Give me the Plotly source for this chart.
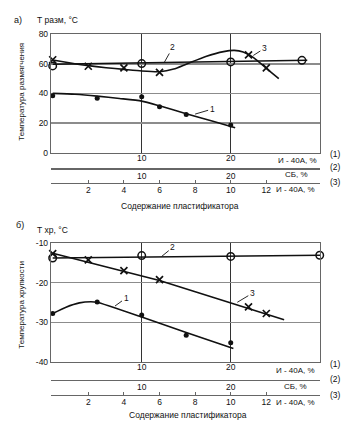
import plotly.graph_objects as go

# ---------------- data: panel a) softening temperature ----------------
a_c1_x = [0, 5, 10, 12, 15, 20]
a_c1_y = [38.5, 36.8, 37.7, 30.9, 25.8, 18.7]
a_c1_fit_x = [0, 2.5, 5, 7.5, 10, 12, 15, 18, 20.5]
a_c1_fit_y = [40.0, 39.4, 38.2, 36.6, 34.8, 31.6, 26.3, 21.2, 16.7]

a_c2_x = [0, 10, 20, 28]
a_c2_y = [58.6, 60.2, 61.3, 62.4]
a_c2_fit_x = [0, 28.6]
a_c2_fit_y = [59.7, 62.4]

a_c3_x = [0, 2, 4, 6, 11, 12]
a_c3_y = [62.8, 58.4, 57.3, 54.2, 66.1, 57.3]
a_c3_fit_x = [0, 1, 2, 3, 4, 5, 6, 6.8, 7.5, 8.6, 9.6, 10.2, 10.7, 11.3, 12, 12.7]
a_c3_fit_y = [62.6, 60.6, 58.8, 57.4, 56.3, 55.2, 54.7, 56.5, 59.8, 65.0, 68.3, 69.1, 68.0, 64.1, 57.0, 50.0]

# ---------------- data: panel b) brittleness temperature ----------------
b_c1_x = [0, 5, 10, 15, 20]
b_c1_y = [-27.8, -24.9, -28.2, -33.3, -35.2]
b_c1_fit_x = [0, 1.5, 3, 4.3, 5, 10, 15, 20.3]
b_c1_fit_y = [-27.8, -26.2, -25.1, -24.8, -24.95, -28.7, -32.6, -36.7]

b_c2_x = [0, 10, 20, 30]
b_c2_y = [-13.7, -13.1, -13.3, -13.0]
b_c2_fit_x = [0, 30.8]
b_c2_fit_y = [-13.7, -13.0]

b_c3_x = [0, 2, 4, 6, 11, 12]
b_c3_y = [-12.6, -14.2, -16.9, -19.2, -26.1, -27.8]
b_c3_fit_x = [0, 6, 13]
b_c3_fit_y = [-12.5, -19.4, -29.4]

# ---------------- ticks ----------------
a_y_ticks = [0, 20, 40, 60, 80]
a_y_ticktext = ["0", "20", "40", "60", "80"]
b_y_ticks = [-40, -30, -20, -10]
b_y_ticktext = ["-40", "-30", "-20", "-10"]
scale1_ticks = [10, 20]
scale2_ticks = [10, 20]
scale3_ticks = [2, 4, 6, 8, 10, 12]

# ---------------- geometry helpers ----------------
W, H = 357, 434
L, R = 51, 37
PW = W - L - R


def xp(px):
    return (px - L) / PW


def yp(py):
    return 1 - py / H


FONT = "Liberation Sans, Arial, sans-serif"
BLACK = "#111"
GRID_H = "#8c8c8c"
GRID_V = "#333"
BORDER = "#666"

X1_RANGE = [-0.19, 30.03]
X3_RANGE = [X1_RANGE[0] / 2, X1_RANGE[1] / 2]

fig = go.Figure()


def line(x, y, xa, ya, shape="linear", smoothing=0):
    fig.add_trace(go.Scatter(x=x, y=y, xaxis=xa, yaxis=ya, mode="lines",
                             line=dict(color=BLACK, width=1.6, shape=shape,
                                       smoothing=smoothing if shape == "spline" else None),
                             hoverinfo="skip", showlegend=False))


def marks(x, y, xa, ya, kind):
    if kind == "dot":
        m = dict(symbol="circle", size=5, color=BLACK)
    elif kind == "circle":
        m = dict(symbol="circle-open", size=7.5, color=BLACK, line=dict(width=1.5, color=BLACK))
    else:
        m = dict(symbol="x-thin-open", size=7, color=BLACK, line=dict(width=1.7, color=BLACK))
    fig.add_trace(go.Scatter(x=x, y=y, xaxis=xa, yaxis=ya, mode="markers",
                             marker=m, cliponaxis=False, hoverinfo="skip",
                             showlegend=False))


# panel a
line(a_c1_fit_x, a_c1_fit_y, "x", "y", "spline", 0.6)
marks(a_c1_x, a_c1_y, "x", "y", "dot")
line(a_c2_fit_x, a_c2_fit_y, "x2", "y")
marks(a_c2_x, a_c2_y, "x2", "y", "circle")
line(a_c3_fit_x, a_c3_fit_y, "x3", "y", "spline", 0.6)
marks(a_c3_x, a_c3_y, "x3", "y", "x")

# panel b
line(b_c1_fit_x, b_c1_fit_y, "x4", "y2", "spline", 0.5)
marks(b_c1_x, b_c1_y, "x4", "y2", "dot")
line(b_c2_fit_x, b_c2_fit_y, "x5", "y2")
marks(b_c2_x, b_c2_y, "x5", "y2", "circle")
line(b_c3_fit_x, b_c3_fit_y, "x6", "y2")
marks(b_c3_x, b_c3_y, "x6", "y2", "x")

tickfont = dict(family=FONT, size=8.5, color=BLACK)

main_x = dict(range=X1_RANGE, tickmode="array", tickvals=scale1_ticks,
              ticktext=[str(v) for v in scale1_ticks], showgrid=True,
              gridcolor=GRID_V, gridwidth=1, showline=True, linecolor=BORDER,
              linewidth=1.2, mirror=True, ticks="", zeroline=False,
              tickfont=tickfont, ticklabelstandoff=-3)

scale2_x = dict(range=X1_RANGE, tickmode="array", tickvals=scale2_ticks,
                ticktext=[str(v) for v in scale2_ticks], showgrid=False,
                showline=True, linecolor=BORDER, linewidth=1.2, ticks="",
                zeroline=False, tickfont=tickfont, anchor="free", side="bottom",
                ticklabelstandoff=-1)

scale3_x = dict(range=X3_RANGE, tickmode="array", tickvals=scale3_ticks,
                ticktext=[str(v) for v in scale3_ticks], showgrid=False,
                showline=True, linecolor=BORDER, linewidth=1.2, ticks="inside",
                ticklen=3, tickcolor=BORDER, zeroline=False, tickfont=tickfont,
                anchor="free", side="bottom", ticklabelstandoff=-1)

fig.update_layout(
    width=W, height=H,
    margin=dict(l=L, r=R, t=0, b=0),
    paper_bgcolor="white", plot_bgcolor="white",
    font=dict(family=FONT, size=8.5, color=BLACK),
    showlegend=False,
    xaxis=dict(main_x, anchor="y"),
    xaxis2=dict(scale2_x, overlaying="x", position=yp(167.3)),
    xaxis3=dict(scale3_x, overlaying="x", position=yp(182.3)),
    xaxis4=dict(main_x, anchor="y2"),
    xaxis5=dict(scale2_x, overlaying="x4", position=yp(383.7)),
    xaxis6=dict(scale3_x, overlaying="x4", position=yp(399.3)),
    yaxis=dict(domain=[yp(151), yp(30)], range=[0, 80], tickmode="array",
               tickvals=a_y_ticks, ticktext=a_y_ticktext, showgrid=True,
               gridcolor=GRID_H, gridwidth=1.3, showline=True, linecolor=BORDER,
               linewidth=1.2, mirror=True, ticks="", zeroline=False,
               tickfont=tickfont, anchor="x"),
    yaxis2=dict(domain=[yp(365), yp(244)], range=[-40, -10], tickmode="array",
                tickvals=b_y_ticks, ticktext=b_y_ticktext, showgrid=True,
                gridcolor=GRID_H, gridwidth=1.3, showline=True, linecolor=BORDER,
                linewidth=1.2, mirror=True, ticks="", zeroline=False,
                tickfont=tickfont, anchor="x4"),
)

ann = []


def text(x, y, s, size=8.5, xanchor="center", angle=0):
    ann.append(dict(x=x, y=y, xref="paper", yref="paper", text=s, showarrow=False,
                    xanchor=xanchor, yanchor="middle", textangle=angle,
                    font=dict(family=FONT, size=size, color=BLACK)))


# headers
text(xp(18), yp(15), "а)", 9)
text(xp(35), yp(15), "Т разм, °С", 8.5, "left")
text(xp(20), yp(225), "б)", 9)
text(xp(35), yp(230), "Т хр, °С", 8.5, "left")
# y titles
text(xp(21.7), yp(89), "Температура размягчения", 8, angle=-90)
text(xp(21.7), yp(307), "Температура хрупкости", 8, angle=-90)
# scale names, panel a
text(xp(319), yp(159.3), "И - 40А, %", 8, "right")
text(xp(310), yp(174), "СБ, %", 8, "right")
text(xp(317), yp(189.3), "И - 40А, %", 8, "right")
# scale names, panel b
text(xp(317), yp(374.3), "И - 40А, %", 8, "right")
text(xp(308.5), yp(391), "СБ, %", 8, "right")
text(xp(317), yp(407.3), "И - 40А, %", 8, "right")
# (1)(2)(3)
for py, s in [(152.3, "(1)"), (166, "(2)"), (181, "(3)"),
              (367.3, "(1)"), (383.3, "(2)"), (399.3, "(3)")]:
    text(xp(335), yp(py), s, 8.5)
# axis titles
text(xp(180), yp(206), "Содержание пластификатора", 8.5)
text(xp(188), yp(419.3), "Содержание пластификатора", 8.5)


def tag(x, y, xr, yr, s, ax, ay):
    ann.append(dict(x=x, y=y, xref=xr, yref=yr, text=s, showarrow=True,
                    arrowhead=0, arrowwidth=0.9, arrowcolor=BLACK, ax=ax, ay=ay,
                    standoff=0, startstandoff=0,
                    font=dict(family=FONT, size=8.5, color=BLACK)))


tag(16.0, 26.0, "x", "y", "1", 17, -5)
tag(12.5, 60.6, "x2", "y", "2", 9, -16)
tag(11.27, 65.7, "x3", "y", "3", 11, -7)
tag(7.0, -25.9, "x4", "y2", "1", 11, -8)
tag(12.25, -13.3, "x5", "y2", "2", 11, -9)
tag(10.37, -24.95, "x6", "y2", "3", 15, -9)

fig.update_layout(annotations=ann)

fig.write_html("out.html", config={"displayModeBar": False, "staticPlot": True},
               post_script="document.body.style.margin='0';document.body.style.overflow='hidden';")
